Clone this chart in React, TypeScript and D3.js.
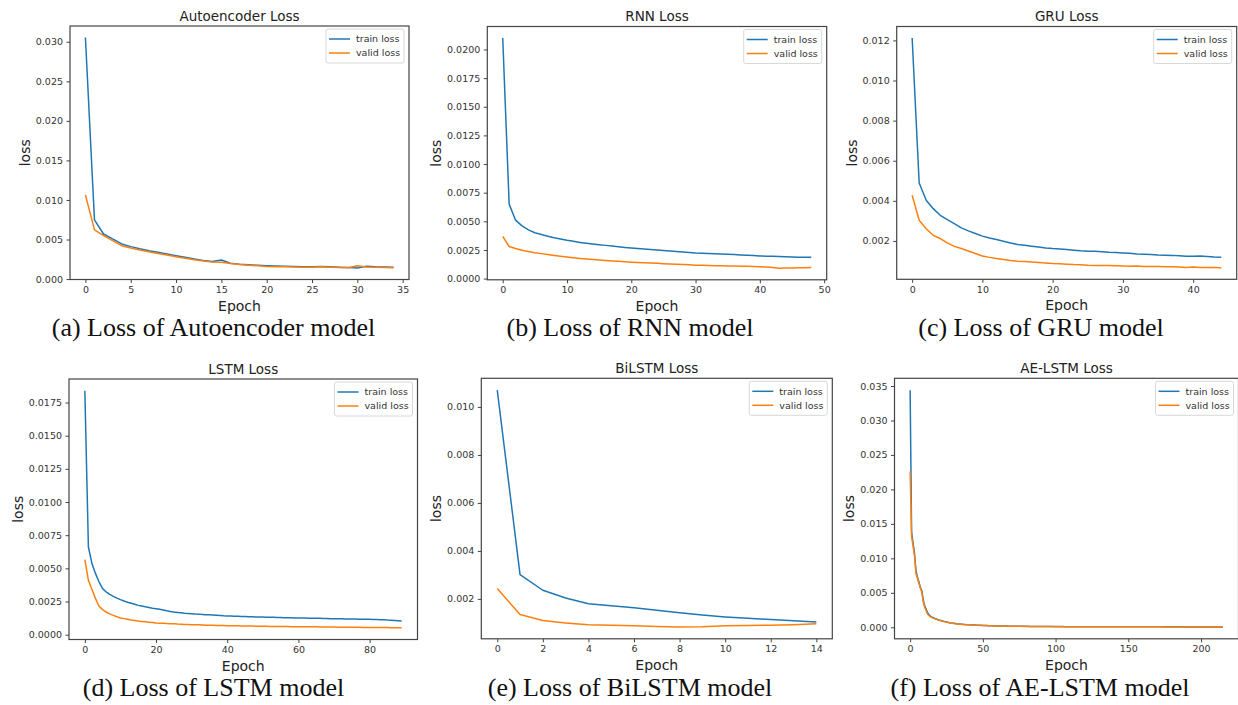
import React, { useEffect, useRef } from "react";
import * as d3 from "d3";

// loss values per epoch
const autoencoderTrain = [
  0.03054, 0.00748, 0.0057, 0.00507, 0.00444, 0.0041, 0.00382, 0.00358, 0.00338, 0.00317,
  0.00296, 0.00276, 0.00255, 0.00236, 0.00221, 0.00241, 0.002, 0.00188, 0.0018, 0.00174,
  0.00169, 0.00166, 0.00163, 0.0016, 0.00157, 0.00156, 0.00158, 0.00155, 0.00149, 0.00145,
  0.0014, 0.00162, 0.00155, 0.00151, 0.00148,
];
const autoencoderValid = [
  0.01065, 0.00621, 0.00549, 0.00486, 0.00422, 0.00393, 0.00368, 0.00345, 0.00324, 0.00303,
  0.00283, 0.00264, 0.00245, 0.00228, 0.00215, 0.00211, 0.00196, 0.00185, 0.00176, 0.00168,
  0.0016, 0.00157, 0.00155, 0.00152, 0.0015, 0.00148, 0.00156, 0.0015, 0.00145, 0.00143,
  0.00169, 0.00152, 0.00148, 0.00145, 0.00144,
];

const rnnTrain = [
  0.021, 0.0065, 0.0051, 0.0046, 0.00425, 0.004, 0.00385, 0.0037, 0.00356, 0.00345,
  0.00334, 0.00325, 0.00316, 0.00308, 0.00301, 0.00295, 0.0029, 0.00284, 0.00278, 0.00272,
  0.00267, 0.00262, 0.00258, 0.00253, 0.00249, 0.00245, 0.00241, 0.00237, 0.00233, 0.00228,
  0.00224, 0.00222, 0.0022, 0.00217, 0.00215, 0.00212, 0.0021, 0.00207, 0.00204, 0.00201,
  0.00198, 0.00196, 0.00194, 0.00192, 0.0019, 0.00188, 0.00187, 0.00186, 0.00186,
];
const rnnValid = [
  0.00369, 0.0028, 0.00262, 0.00248, 0.00236, 0.00226, 0.00218, 0.0021, 0.00202, 0.00195,
  0.00188, 0.00181, 0.00175, 0.0017, 0.00166, 0.00162, 0.00158, 0.00154, 0.00151, 0.00147,
  0.00143, 0.0014, 0.00138, 0.00136, 0.00133, 0.0013, 0.00128, 0.00126, 0.00123, 0.0012,
  0.00116, 0.00117, 0.00115, 0.00113, 0.00112, 0.0011, 0.00109, 0.00108, 0.00107, 0.00106,
  0.00104, 0.00101, 0.00097, 0.0009, 0.00093, 0.00093, 0.00094, 0.00095, 0.00096,
];

const gruTrain = [
  0.01212, 0.00489, 0.00403, 0.00361, 0.00328, 0.00306, 0.00286, 0.00265, 0.0025, 0.00237,
  0.00224, 0.00215, 0.00207, 0.00198, 0.0019, 0.00182, 0.00178, 0.00174, 0.0017, 0.00165,
  0.00162, 0.0016, 0.00157, 0.00154, 0.00151, 0.00149, 0.00148, 0.00146, 0.00143, 0.00142,
  0.0014, 0.00138, 0.00135, 0.00134, 0.00132, 0.0013, 0.00129, 0.00128, 0.00126, 0.00124,
  0.00124, 0.00125, 0.00123, 0.0012, 0.00119,
];
const gruValid = [
  0.00428, 0.00303, 0.00261, 0.00228, 0.00212, 0.0019, 0.00173, 0.00162, 0.0015, 0.00137,
  0.00125, 0.00118, 0.00112, 0.00107, 0.00102, 0.00099, 0.00097, 0.00095, 0.00093, 0.0009,
  0.00087, 0.00086, 0.00084, 0.00082, 0.00081, 0.00079, 0.00078, 0.00077, 0.00077, 0.00076,
  0.00075, 0.00074, 0.00075, 0.00073, 0.00072, 0.00072, 0.00071, 0.00071, 0.0007, 0.00068,
  0.0007, 0.00068, 0.00067, 0.00067, 0.00066,
];

const lstmTrain = [
  0.01838, 0.00661, 0.00536, 0.0046, 0.00397, 0.00347, 0.00322, 0.00304, 0.00289, 0.00276,
  0.00264, 0.00254, 0.00245, 0.00237, 0.00229, 0.00221, 0.00216, 0.0021, 0.00205, 0.002,
  0.00196, 0.00191, 0.00186, 0.0018, 0.00175, 0.00171, 0.00168, 0.00165, 0.00162, 0.0016,
  0.00158, 0.00156, 0.00155, 0.00153, 0.00151, 0.0015, 0.00148, 0.00146, 0.00144, 0.00142,
  0.00141, 0.0014, 0.00139, 0.00139, 0.00138, 0.00137, 0.00136, 0.00135, 0.00134, 0.00134,
  0.00133, 0.00132, 0.00131, 0.00131, 0.0013, 0.00129, 0.00128, 0.00128, 0.00127, 0.00126,
  0.00126, 0.00125, 0.00125, 0.00124, 0.00124, 0.00123, 0.00123, 0.00122, 0.00122, 0.00121,
  0.00121, 0.0012, 0.0012, 0.00119, 0.00119, 0.00118, 0.00118, 0.00117, 0.00117, 0.00116,
  0.00116, 0.00115, 0.00114, 0.00113, 0.00112, 0.0011, 0.00109, 0.00107, 0.00105, 0.00103,
];
const lstmValid = [
  0.00566, 0.0041, 0.0034, 0.00272, 0.00214, 0.00189, 0.00171, 0.00157, 0.00146, 0.00135,
  0.00126, 0.00121, 0.00116, 0.00111, 0.00107, 0.00103, 0.001, 0.00097, 0.00094, 0.00091,
  0.00088, 0.00087, 0.00086, 0.00084, 0.00083, 0.00082, 0.0008, 0.00079, 0.00077, 0.00076,
  0.00075, 0.00074, 0.00074, 0.00073, 0.00072, 0.00072, 0.00071, 0.0007, 0.00069, 0.00069,
  0.00068, 0.00068, 0.00067, 0.00067, 0.00066, 0.00066, 0.00065, 0.00065, 0.00064, 0.00064,
  0.00063, 0.00063, 0.00062, 0.00062, 0.00062, 0.00061, 0.00061, 0.00061, 0.0006, 0.0006,
  0.0006, 0.0006, 0.00059, 0.00059, 0.00059, 0.00059, 0.00058, 0.00058, 0.00058, 0.00058,
  0.00058, 0.00057, 0.00057, 0.00057, 0.00056, 0.00056, 0.00056, 0.00056, 0.00055, 0.00055,
  0.00055, 0.00055, 0.00054, 0.00054, 0.00054, 0.00054, 0.00053, 0.00053, 0.00053, 0.00053,
];

const bilstmTrain = [
  0.0107, 0.00301, 0.00236, 0.00204, 0.0018, 0.00171, 0.00163, 0.00153, 0.00142, 0.00133,
  0.00125, 0.00119, 0.00114, 0.00109, 0.00104,
];
const bilstmValid = [
  0.00243, 0.00135, 0.0011, 0.001, 0.00092, 0.0009, 0.00088, 0.00085, 0.00083, 0.00084,
  0.00088, 0.00089, 0.0009, 0.00092, 0.00096,
];

const aelstmTrain = [
  0.0344, 0.0138, 0.0122, 0.0108, 0.0082, 0.0073, 0.0066, 0.0058, 0.0053, 0.004,
  0.0031, 0.0026, 0.0021, 0.0018, 0.0016, 0.00148, 0.00138, 0.00128, 0.0012, 0.00112,
  0.00105, 0.00099, 0.00093, 0.00087, 0.00082, 0.00077, 0.00072, 0.00067, 0.00063, 0.0006,
  0.00057, 0.00054, 0.00051, 0.00049, 0.00047, 0.00045, 0.00043, 0.00041, 0.0004, 0.00038,
  0.00037, 0.00036, 0.00035, 0.00034, 0.00033, 0.00032, 0.00031, 0.0003, 0.00029, 0.00028,
  0.00027, 0.00026, 0.00025, 0.00024, 0.00023, 0.00023, 0.00022, 0.00021, 0.00021, 0.0002,
  0.0002, 0.00019, 0.00019, 0.00018, 0.00018, 0.00017, 0.00017, 0.00017, 0.00016, 0.00016,
  0.00016, 0.00015, 0.00015, 0.00015, 0.00014, 0.00014, 0.00014, 0.00014, 0.00013, 0.00013,
  0.00013, 0.00013, 0.00012, 0.00012, 0.00012, 0.00012, 0.00012, 0.00011, 0.00011, 0.00011,
  0.00011, 0.00011, 0.00011, 0.0001, 0.0001, 0.0001, 0.0001, 0.0001, 0.0001, 0.0001,
  0.0001, 0.0001, 0.000095, 0.000095, 0.000095, 0.000095, 0.00009, 0.00009, 0.00009, 0.00009,
  0.00009, 0.00009, 0.000088, 0.000088, 0.000088, 0.000086, 0.000086, 0.000086, 0.000085, 0.000085,
  0.000085, 0.000084, 0.000084, 0.000083, 0.000083, 0.000082, 0.000082, 0.000081, 0.000081, 0.00008,
  0.00008, 0.00008, 0.000079, 0.000079, 0.000078, 0.000078, 0.000077, 0.000077, 0.000076, 0.000076,
  0.000075, 0.000075, 0.000075, 0.000074, 0.000074, 0.000073, 0.000073, 0.000072, 0.000072, 0.000072,
  0.000071, 0.000071, 0.00007, 0.00007, 0.00007, 0.000069, 0.000069, 0.000068, 0.000068, 0.000068,
  0.000067, 0.000067, 0.000066, 0.000066, 0.000066, 0.000065, 0.000065, 0.000065, 0.000064, 0.000064,
  0.000064, 0.000063, 0.000063, 0.000063, 0.000062, 0.000062, 0.000062, 0.000061, 0.000061, 0.000061,
  0.00006, 0.00006, 0.00006, 0.000059, 0.000059, 0.000059, 0.000058, 0.000058, 0.000058, 0.000057,
  0.000057, 0.000057, 0.000056, 0.000056, 0.000056, 0.000055, 0.000055, 0.000055, 0.000054, 0.000054,
  0.000054, 0.000053, 0.000053, 0.000053, 0.000052, 0.000052, 0.000052, 0.000051, 0.000051, 0.000051,
  0.00005, 0.00005, 0.00005, 0.00005, 0.00005, 0.00005,
];
const aelstmValid = [
  0.0226, 0.0132, 0.0118, 0.0104, 0.0078, 0.0071, 0.0064, 0.0057, 0.0051, 0.0037,
  0.0029, 0.0024, 0.0019, 0.0017, 0.0015, 0.0014, 0.00132, 0.00123, 0.00115, 0.00107,
  0.001, 0.00094, 0.00088, 0.00083, 0.00078, 0.00073, 0.00068, 0.00064, 0.0006, 0.00057,
  0.00054, 0.00051, 0.00049, 0.00047, 0.00045, 0.00043, 0.00041, 0.00039, 0.00038, 0.00036,
  0.00035, 0.00034, 0.00033, 0.00032, 0.00031, 0.0003, 0.00029, 0.00028, 0.00027, 0.00026,
  0.00025, 0.00025, 0.00024, 0.00023, 0.00022, 0.00022, 0.00021, 0.0002, 0.0002, 0.00019,
  0.00019, 0.00018, 0.00018, 0.00017, 0.00017, 0.00016, 0.00016, 0.00016, 0.00015, 0.00015,
  0.00015, 0.00014, 0.00014, 0.00014, 0.00013, 0.00013, 0.00013, 0.00013, 0.00012, 0.00012,
  0.00012, 0.00012, 0.00011, 0.00011, 0.00011, 0.00011, 0.00011, 0.0001, 0.0001, 0.0001,
  0.0001, 0.0001, 0.0001, 0.000095, 0.000095, 0.000095, 0.000095, 0.000095, 0.00009, 0.00009,
  0.00009, 0.00009, 0.00009, 0.00009, 0.000088, 0.000088, 0.000086, 0.000086, 0.000085, 0.000085,
  0.000085, 0.000084, 0.000084, 0.000083, 0.000083, 0.000082, 0.000082, 0.000081, 0.000081, 0.00008,
  0.00008, 0.000079, 0.000079, 0.000078, 0.000078, 0.000077, 0.000077, 0.000076, 0.000076, 0.000075,
  0.000075, 0.000075, 0.000074, 0.000074, 0.000073, 0.000073, 0.000072, 0.000072, 0.000071, 0.000071,
  0.00007, 0.00007, 0.00007, 0.000069, 0.000069, 0.000068, 0.000068, 0.000067, 0.000067, 0.000067,
  0.000066, 0.000066, 0.000065, 0.000065, 0.000065, 0.000064, 0.000064, 0.000063, 0.000063, 0.000063,
  0.000062, 0.000062, 0.000061, 0.000061, 0.000061, 0.00006, 0.00006, 0.00006, 0.000059, 0.000059,
  0.000059, 0.000058, 0.000058, 0.000058, 0.000057, 0.000057, 0.000057, 0.000056, 0.000056, 0.000056,
  0.000055, 0.000055, 0.000055, 0.000054, 0.000054, 0.000054, 0.000053, 0.000053, 0.000053, 0.000052,
  0.000052, 0.000052, 0.000051, 0.000051, 0.000051, 0.00005, 0.00005, 0.00005, 0.000049, 0.000049,
  0.000049, 0.000048, 0.000048, 0.000048, 0.000047, 0.000047, 0.000047, 0.000046, 0.000046, 0.000046,
  0.000045, 0.000045, 0.000045, 0.000045, 0.000045, 0.000045,
];

// tick values
const autoencoderXTicks = [0, 5, 10, 15, 20, 25, 30, 35];
const autoencoderYTicks = [0, 0.005, 0.01, 0.015, 0.02, 0.025, 0.03];
const rnnXTicks = [0, 10, 20, 30, 40, 50];
const rnnYTicks = [0, 0.0025, 0.005, 0.0075, 0.01, 0.0125, 0.015, 0.0175, 0.02];
const gruXTicks = [0, 10, 20, 30, 40];
const gruYTicks = [0.002, 0.004, 0.006, 0.008, 0.01, 0.012];
const lstmXTicks = [0, 20, 40, 60, 80];
const lstmYTicks = [0, 0.0025, 0.005, 0.0075, 0.01, 0.0125, 0.015, 0.0175];
const bilstmXTicks = [0, 2, 4, 6, 8, 10, 12, 14];
const bilstmYTicks = [0.002, 0.004, 0.006, 0.008, 0.01];
const aelstmXTicks = [0, 50, 100, 150, 200];
const aelstmYTicks = [0, 0.005, 0.01, 0.015, 0.02, 0.025, 0.03, 0.035];

const seriesNames = ["train loss", "valid loss"];
const seriesColors = ["#1f77b4", "#ff7f0e"];

const panels = [
  { title: "Autoencoder Loss", caption: "(a) Loss of Autoencoder model", train: autoencoderTrain, valid: autoencoderValid,
    xTicks: autoencoderXTicks, yTicks: autoencoderYTicks, digits: 3,
    box: { x: 70, y: 26, w: 339, h: 253.5 }, captionX: 213.5, captionY: 336 },
  { title: "RNN Loss", caption: "(b) Loss of RNN model", train: rnnTrain, valid: rnnValid,
    xTicks: rnnXTicks, yTicks: rnnYTicks, digits: 4,
    box: { x: 487.3, y: 26.5, w: 339.4, h: 253.3 }, captionX: 630, captionY: 336 },
  { title: "GRU Loss", caption: "(c) Loss of GRU model", train: gruTrain, valid: gruValid,
    xTicks: gruXTicks, yTicks: gruYTicks, digits: 3,
    box: { x: 896.7, y: 26.5, w: 340, h: 252.8 }, captionX: 1041, captionY: 336 },
  { title: "LSTM Loss", caption: "(d) Loss of LSTM model", train: lstmTrain, valid: lstmValid,
    xTicks: lstmXTicks, yTicks: lstmYTicks, digits: 4,
    box: { x: 69, y: 379, w: 348.5, h: 260.5 }, captionX: 213.5, captionY: 696 },
  { title: "BiLSTM Loss", caption: "(e) Loss of BiLSTM model", train: bilstmTrain, valid: bilstmValid,
    xTicks: bilstmXTicks, yTicks: bilstmYTicks, digits: 3,
    box: { x: 481.3, y: 378.3, w: 351, h: 260.5 }, captionX: 630, captionY: 696 },
  { title: "AE-LSTM Loss", caption: "(f) Loss of AE-LSTM model", train: aelstmTrain, valid: aelstmValid,
    xTicks: aelstmXTicks, yTicks: aelstmYTicks, digits: 3,
    box: { x: 894.5, y: 378.3, w: 344, h: 260.5 }, captionX: 1040, captionY: 696 },
];

const W = 1238;
const H = 705;
const sans = "'DejaVu Sans', sans-serif";

export default function App() {
  const ref = useRef<SVGSVGElement>(null);

  useEffect(() => {
    const svg = d3.select(ref.current);
    svg.selectAll("*").remove();
    svg.append("rect").attr("width", W).attr("height", H).attr("fill", "#fff");

    panels.forEach((p, pi) => {
      const { x, y, w, h } = p.box;
      const n = p.train.length - 1;
      const all = p.train.concat(p.valid);
      const lo = d3.min(all) as number;
      const hi = d3.max(all) as number;
      const pad = (hi - lo) * 0.05;

      // matplotlib-style 5% margins
      const xScale = d3.scaleLinear().domain([-n * 0.05, n * 1.05]).range([0, w]);
      const yScale = d3.scaleLinear().domain([lo - pad, hi + pad]).range([h, 0]);

      const g = svg.append("g").attr("transform", `translate(${x},${y})`);

      const line = d3
        .line<number>()
        .x((_, i) => xScale(i))
        .y((d) => yScale(d));

      g.append("defs")
        .append("clipPath")
        .attr("id", `clip-${pi}`)
        .append("rect")
        .attr("width", w)
        .attr("height", h);

      [p.train, p.valid].forEach((s, k) => {
        g.append("path")
          .datum(s)
          .attr("d", line)
          .attr("fill", "none")
          .attr("stroke", seriesColors[k])
          .attr("stroke-width", 1.5)
          .attr("stroke-linejoin", "round")
          .attr("clip-path", `url(#clip-${pi})`);
      });

      const xAxis = g
        .append("g")
        .attr("transform", `translate(0,${h})`)
        .call(d3.axisBottom(xScale).tickValues(p.xTicks).tickFormat(d3.format("d")).tickSize(3.5).tickPadding(3));
      const yAxis = g
        .append("g")
        .call(
          d3.axisLeft(yScale).tickValues(p.yTicks).tickFormat(d3.format(`.${p.digits}f`)).tickSize(3.5).tickPadding(3.5)
        );
      [xAxis, yAxis].forEach((a) => {
        a.select(".domain").remove();
        a.selectAll("line").attr("stroke", "#444");
        a.selectAll("text").attr("fill", "#333").style("font-size", "9.5px").style("font-family", sans);
      });

      g.append("rect")
        .attr("width", w)
        .attr("height", h)
        .attr("fill", "none")
        .attr("stroke", "#444")
        .attr("stroke-width", 1.2);

      // legend
      const lg = g.append("g").attr("transform", `translate(${w - 83},3)`);
      lg.append("rect")
        .attr("width", 78)
        .attr("height", 34)
        .attr("rx", 2)
        .attr("fill", "#fff")
        .attr("stroke", "#d8d8d8");
      seriesNames.forEach((name, k) => {
        lg.append("line")
          .attr("x1", 3)
          .attr("x2", 24)
          .attr("y1", 10 + k * 14)
          .attr("y2", 10 + k * 14)
          .attr("stroke", seriesColors[k])
          .attr("stroke-width", 1.5);
        lg.append("text")
          .attr("x", 30)
          .attr("y", 10 + k * 14)
          .attr("dy", "0.35em")
          .attr("fill", "#333")
          .style("font-size", "9.5px")
          .style("font-family", sans)
          .text(name);
      });

      g.append("text")
        .attr("x", w / 2)
        .attr("y", -5.5)
        .attr("text-anchor", "middle")
        .attr("fill", "#222")
        .style("font-size", "13.5px")
        .style("font-family", sans)
        .text(p.title);

      g.append("text")
        .attr("x", w / 2)
        .attr("y", h + 31)
        .attr("text-anchor", "middle")
        .attr("fill", "#222")
        .style("font-size", "14px")
        .style("font-family", sans)
        .text("Epoch");

      g.append("text")
        .attr("transform", `translate(${p.digits === 4 ? -51 : -45},${h / 2}) rotate(-90)`)
        .attr("dy", "0.35em")
        .attr("text-anchor", "middle")
        .attr("fill", "#222")
        .style("font-size", "14px")
        .style("font-family", sans)
        .text("loss");

      svg.append("text")
        .attr("x", p.captionX)
        .attr("y", p.captionY)
        .attr("text-anchor", "middle")
        .attr("fill", "#111")
        .style("font-size", "26px")
        .style("font-family", "'Liberation Serif', 'Times New Roman', serif")
        .text(p.caption);
    });
  }, []);

  return (
    <div style={{ position: "absolute", left: 0, top: 0 }}>
      <svg ref={ref} width={W} height={H} style={{ display: "block" }} />
    </div>
  );
}
